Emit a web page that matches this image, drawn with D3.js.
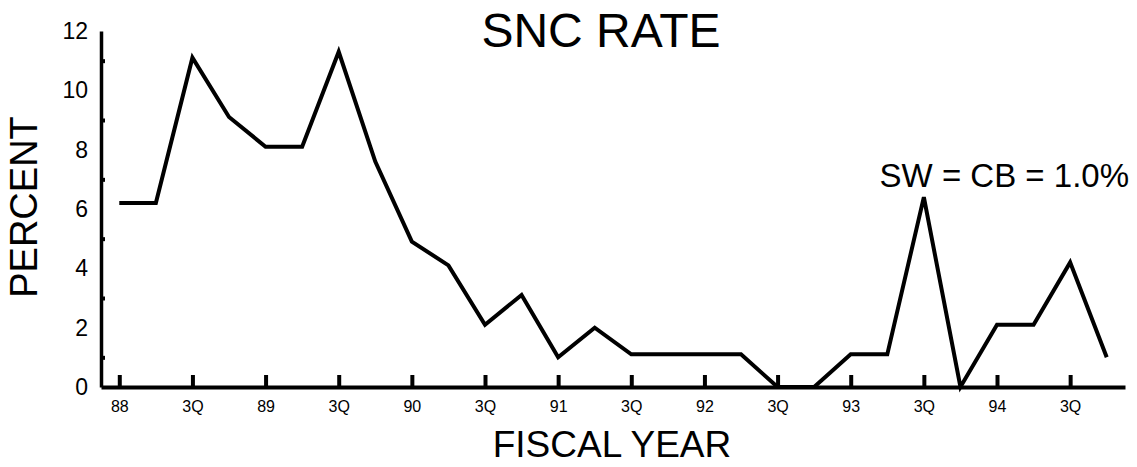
<!DOCTYPE html>
<html>
<head>
<meta charset="utf-8">
<script src="https://cdn.jsdelivr.net/npm/d3@7"></script>
<style>
  body { margin: 0; background: #fff; }
  svg { display: block; font-family: "Liberation Sans", Arial, Helvetica, sans-serif; }
  .axis text { fill: #000; }
</style>
</head>
<body>
<svg id="chart" width="1137" height="467"></svg>
<script>
// quarterly SNC rate, FY88 1Q .. FY94 4Q
const quarters = d3.range(28)
const sncRate = [6.2, 6.2, 11.1, 9.1, 8.1, 8.1, 11.3, 7.6,
                 4.9, 4.1, 2.1, 3.1, 1.0, 2.0, 1.1, 1.1,
                 1.1, 1.1, 0, 0, 1.1, 1.1, 6.4, 0,
                 2.1, 2.1, 4.2, 1.0]
const xTickLabels = ['88', '3Q', '89', '3Q', '90', '3Q', '91', '3Q', '92', '3Q', '93', '3Q', '94', '3Q']
const yTickLabels = [0, 2, 4, 6, 8, 10, 12]
const yMinorTicks = [1, 3, 5, 7, 9, 11]

const margin = {left: 101, right: 12, top: 31, bottom: 80}
const width = 1137
const height = 467

const svg = d3.select('#chart')

const x = d3.scaleLinear()
  .domain([-0.5, quarters.length - 0.5])
  .range([margin.left, width - margin.right])

const y = d3.scaleLinear()
  .domain([0, 12])
  .range([height - margin.bottom, margin.top])

// x axis, ticks pointing up every half year
const xAxis = svg.append('g')
  .attr('class', 'axis')
  .attr('transform', `translate(0,${y(0)})`)
  .call(d3.axisBottom(x)
    .tickValues(xTickLabels.map((d, i) => i * 2))
    .tickFormat((d, i) => xTickLabels[i])
    .tickSize(-12)
    .tickSizeOuter(0)
    .tickPadding(14))
xAxis.select('.domain').attr('stroke', '#000').attr('stroke-width', 4)
xAxis.selectAll('.tick line').attr('stroke', '#000').attr('stroke-width', 4)
xAxis.selectAll('text').attr('font-size', 16).attr('font-family', null)

// y axis, labels on even values
const yAxis = svg.append('g')
  .attr('class', 'axis')
  .attr('transform', `translate(${margin.left},0)`)
  .call(d3.axisLeft(y)
    .tickValues(yTickLabels)
    .tickSize(0)
    .tickSizeOuter(0)
    .tickPadding(13))
yAxis.select('.domain').attr('stroke', '#000').attr('stroke-width', 3.5)
yAxis.selectAll('text').attr('font-size', 23).attr('font-family', null)

// small nubs on odd values
const yMinor = svg.append('g')
  .attr('transform', `translate(${margin.left},0)`)
  .call(d3.axisRight(y)
    .tickValues(yMinorTicks)
    .tickSize(4)
    .tickFormat(''))
yMinor.select('.domain').remove()
yMinor.selectAll('.tick line').attr('stroke', '#000').attr('stroke-width', 4)

// the line
const line = d3.line()
  .x((d, i) => x(quarters[i]))
  .y(d => y(d))

svg.append('path')
  .datum(sncRate)
  .attr('fill', 'none')
  .attr('stroke', '#000')
  .attr('stroke-width', 4)
  .attr('stroke-linejoin', 'miter')
  .attr('d', line)

// titles
svg.append('text')
  .attr('x', 601)
  .attr('y', 47)
  .attr('text-anchor', 'middle')
  .attr('font-size', 48)
  .text('SNC RATE')

svg.append('text')
  .attr('transform', 'rotate(-90)')
  .attr('x', -207)
  .attr('y', 37)
  .attr('text-anchor', 'middle')
  .attr('font-size', 38)
  .text('PERCENT')

svg.append('text')
  .attr('x', 612)
  .attr('y', 457)
  .attr('text-anchor', 'middle')
  .attr('font-size', 37)
  .text('FISCAL YEAR')

svg.append('text')
  .attr('x', 1129)
  .attr('y', 187)
  .attr('text-anchor', 'end')
  .attr('font-size', 33)
  .text('SW = CB = 1.0%')
</script>
</body>
</html>
